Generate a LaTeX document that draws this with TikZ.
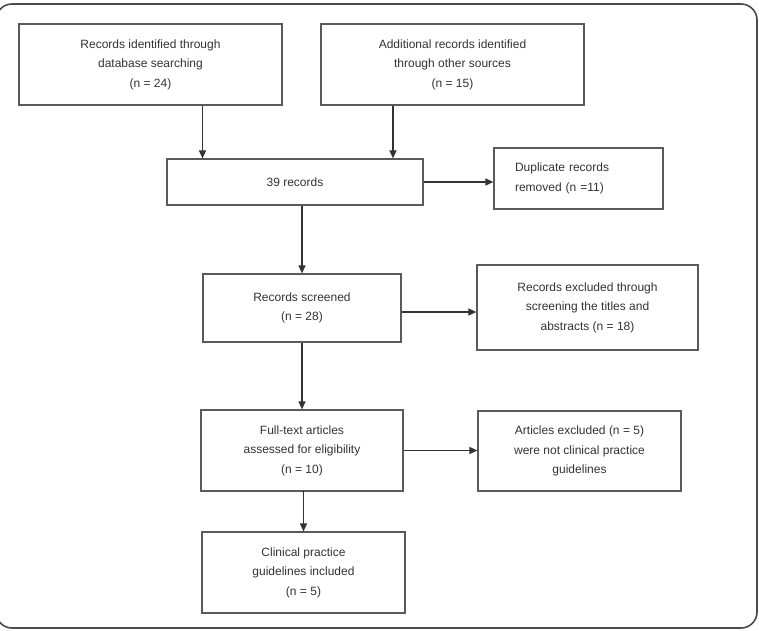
\documentclass[tikz,border=0pt]{standalone}
\usepackage{fontspec}
\setmainfont{Liberation Sans}
\usetikzlibrary{arrows.meta,positioning,calc}
\definecolor{boxline}{HTML}{5A5A5A}
\definecolor{inktext}{HTML}{333333}
\definecolor{frameline}{HTML}{4A4A4A}
\tikzset{
  flowbox/.style={draw=boxline, line width=1.2pt, fill=white, inner sep=0pt,
                  align=center, text=inktext, font=\fontsize{12}{19.5}\selectfont},
  arr/.style={-{Triangle[length=8pt,width=7pt]}, line width=1.3pt, color=inktext},
  outerframe/.style={draw=frameline, line width=1.6pt, rounded corners=16pt}}

\begin{document}
\begin{tikzpicture}[x=1pt, y=-1pt]
  \useasboundingbox (0,0) rectangle (759,630);
  \draw[outerframe] (-4,4) rectangle (757,628);

  % identification
  \node[flowbox, minimum width=263pt, minimum height=81pt] (dbsearch) at (150.5,64.5)
    {Records identified through\\database searching\\(n = 24)};
  \node[flowbox, minimum width=263pt, minimum height=81pt] (othersrc) at (452.5,64.5)
    {Additional records identified\\through other sources\\(n = 15)};
  \node[flowbox, minimum width=256pt, minimum height=46pt] (pooled) at (295,182)
    {39 records};
  \node[flowbox, minimum width=169pt, minimum height=61pt, text width=127pt, align=left] (dupes) at (578.5,178.5)
    {Duplicate records\\removed (n =11)};

  % screening
  \node[flowbox, minimum width=198pt, minimum height=68pt] (screened) at (302,308)
    {Records screened\\(n = 28)};
  \node[flowbox, minimum width=221pt, minimum height=85pt] (excluded) at (587.5,307.5)
    {Records excluded through\\screening the titles and\\abstracts (n = 18)};

  % eligibility
  \node[flowbox, minimum width=202pt, minimum height=81pt] (fulltext) at (302,450.5)
    {Full-text articles\\assessed for eligibility\\(n = 10)};
  \node[flowbox, minimum width=203pt, minimum height=80pt] (artexcl) at (579.5,451)
    {Articles excluded (n = 5)\\were not clinical practice\\guidelines};

  % included
  \node[flowbox, minimum width=203pt, minimum height=81pt] (included) at (303.5,572.5)
    {Clinical practice\\guidelines included\\(n = 5)};

  % connectors
  \draw[arr] ([xshift=52pt]dbsearch.south) -- ([xshift=52pt]dbsearch.south |- pooled.north);
  \draw[arr] ([xshift=-59.5pt]othersrc.south) -- ([xshift=-59.5pt]othersrc.south |- pooled.north);
  \draw[arr] (pooled.east) -- (pooled.east -| dupes.west);
  \draw[arr] (screened.north |- pooled.south) -- (screened.north);
  \draw[arr] ([yshift=-4pt]screened.east) -- ([yshift=-4pt]screened.east -| excluded.west);
  \draw[arr] (screened.south) -- (fulltext.north);
  \draw[arr] (fulltext.east) -- (fulltext.east -| artexcl.west);
  \draw[arr] (fulltext.south) -- (fulltext.south -| included.north) -- (included.north);
\end{tikzpicture}
\end{document}
